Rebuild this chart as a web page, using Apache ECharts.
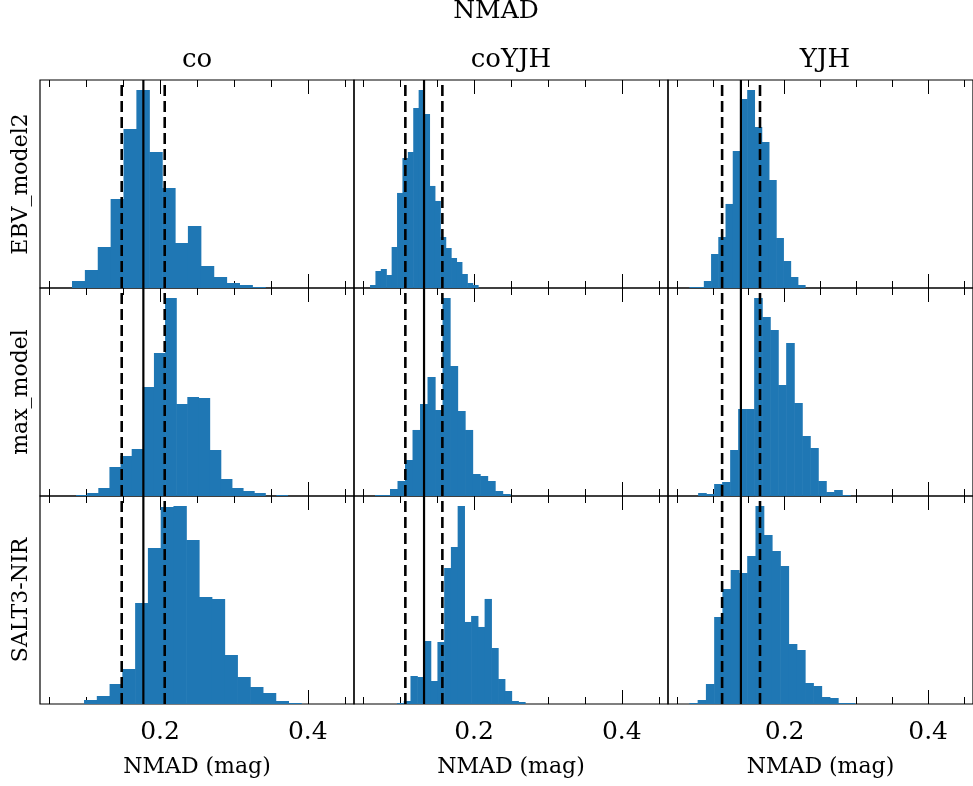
<!DOCTYPE html>
<html lang="en">

<head>
  <meta charset="UTF-8">
  <title>NMAD</title>
  <script src="https://cdn.jsdelivr.net/npm/echarts@6/dist/echarts.min.js"></script>
  <style>
    html,
    body {
      margin: 0;
      padding: 0;
      background-color: #fff;
    }

    #chart {
      width: 973px;
      height: 786px;
    }
  </style>
</head>

<body>
  <div id="chart"></div>
  <script>
    const columns = ['co', 'coYJH', 'YJH'];
    const rows = ['EBV_model2', 'max_model', 'SALT3-NIR'];

    // median and +/- lines per column
    const lowLines = [0.1481, 0.107, 0.1129];
    const medianLines = [0.1774, 0.1323, 0.1391];
    const highLines = [0.2063, 0.1571, 0.1657];

    // histogram bins: first edge, bin width, counts (row by row)
    const binStart = [
      [0.0808, 0.0592, 0.0673],
      [0.0863, 0.0659, 0.0795],
      [0.0971, 0.0957, 0.0673]
    ];
    const binWidth = [
      [0.01743, 0.00731, 0.01007],
      [0.01506, 0.01016, 0.01115],
      [0.01729, 0.00912, 0.01151]
    ];
    const countsCoEBV = [7, 18, 41, 89, 159, 198, 136, 100, 45, 62, 22, 11, 5, 3, 1];
    const countsCoYJHEBV = [3, 17, 19, 13, 41, 95, 130, 136, 180, 198, 174, 102, 87, 51, 40, 30, 26, 14, 5, 3];
    const countsYJHEBV = [1, 1, 7, 34, 51, 84, 137, 189, 198, 161, 146, 108, 50, 27, 11, 3];
    const countsCoMax = [1, 3, 8, 29, 40, 47, 109, 143, 198, 92, 99, 98, 46, 17, 8, 5, 3, 0, 1];
    const countsCoYJHMax = [1, 1, 7, 15, 36, 66, 92, 119, 86, 198, 130, 85, 66, 22, 20, 15, 5, 2];
    const countsYJHMax = [3, 2, 12, 14, 46, 87, 87, 198, 179, 166, 111, 153, 93, 60, 48, 15, 4, 6, 1];
    const countsCoSALT = [4, 8, 20, 35, 101, 156, 197, 198, 164, 107, 105, 49, 27, 17, 11, 3, 1];
    const countsCoYJHSALT = [1, 3, 28, 27, 63, 23, 62, 136, 157, 198, 82, 88, 77, 105, 56, 25, 13, 3, 2];
    const countsYJHSALT = [1, 4, 20, 87, 115, 134, 131, 148, 198, 169, 153, 138, 60, 54, 21, 18, 7, 6, 1, 1];
    const counts = [
      [countsCoEBV, countsCoYJHEBV, countsYJHEBV],
      [countsCoMax, countsCoYJHMax, countsYJHMax],
      [countsCoSALT, countsCoYJHSALT, countsYJHSALT]
    ];

    const xMin = 0.0375;
    const xMax = 0.4625;
    const majorTicks = [0.2, 0.4];
    const minorTicks = [0.05, 0.1, 0.15, 0.25, 0.3, 0.35, 0.45];

    const font = 'DejaVu Serif';
    const barColor = '#1f77b4';

    const chart = echarts.init(document.getElementById('chart'));

    const grids = [];
    const xAxes = [];
    const yAxes = [];
    const series = [];

    function tickAxis(gi, pos, values, len, withLabel, name) {
      return {
        type: 'value',
        gridIndex: gi,
        position: pos,
        min: xMin,
        max: xMax,
        axisLine: { show: false },
        splitLine: { show: false },
        axisTick: {
          show: true,
          inside: true,
          length: len,
          customValues: values,
          lineStyle: { color: '#000', width: 1 }
        },
        axisLabel: {
          show: withLabel,
          customValues: majorTicks,
          formatter: v => v.toFixed(1),
          fontFamily: font,
          fontSize: 25,
          color: '#000',
          margin: 16
        },
        name: name || '',
        nameLocation: 'middle',
        nameGap: 52,
        nameTextStyle: { fontFamily: font, fontSize: 22, color: '#000' }
      };
    }

    for (let r = 0; r < 3; r++) {
      for (let c = 0; c < 3; c++) {
        const gi = r * 3 + c;
        grids.push({
          left: 40 + c * 314,
          top: 80 + r * 208,
          width: 314,
          height: 208,
          show: true,
          borderColor: '#000',
          borderWidth: 1.2,
          backgroundColor: 'transparent'
        });
        const bottomRow = r === 2;
        xAxes.push(tickAxis(gi, 'bottom', majorTicks, 14, bottomRow, bottomRow ? 'NMAD (mag)' : ''));
        xAxes.push(tickAxis(gi, 'bottom', minorTicks, 7, false));
        xAxes.push(tickAxis(gi, 'top', majorTicks, 14, false));
        xAxes.push(tickAxis(gi, 'top', minorTicks, 7, false));

        const cts = counts[r][c];
        const yMax = Math.max(...cts) * 1.05;
        yAxes.push({
          type: 'value',
          gridIndex: gi,
          min: 0,
          max: yMax,
          axisLine: { show: false },
          axisTick: { show: false },
          axisLabel: { show: false },
          splitLine: { show: false },
          name: c === 0 ? rows[r] : '',
          nameLocation: 'middle',
          nameRotate: 90,
          nameGap: 8,
          nameTextStyle: { fontFamily: font, fontSize: 22, color: '#000' }
        });

        const bins = cts.map((v, i) => {
          const a = binStart[r][c] + i * binWidth[r][c];
          return [a, a + binWidth[r][c], v];
        });
        series.push({
          type: 'custom',
          xAxisIndex: gi * 4,
          yAxisIndex: gi,
          silent: true,
          data: bins,
          encode: { x: [0, 1], y: 2 },
          renderItem: function (params, api) {
            const p0 = api.coord([api.value(0), api.value(2)]);
            const p1 = api.coord([api.value(1), 0]);
            return {
              type: 'rect',
              shape: { x: p0[0], y: p0[1], width: p1[0] - p0[0] + 0.6, height: p1[1] - p0[1] },
              style: { fill: barColor }
            };
          },
          z: 2
        });

        const vlines = [
          [lowLines[c], 'dashed'],
          [medianLines[c], 'solid'],
          [highLines[c], 'dashed']
        ];
        vlines.forEach(([xv, kind]) => {
          series.push({
            type: 'line',
            xAxisIndex: gi * 4,
            yAxisIndex: gi,
            silent: true,
            showSymbol: false,
            animation: false,
            data: [[xv, 0], [xv, yMax]],
            lineStyle: {
              color: '#000',
              width: kind === 'solid' ? 2.2 : 2.6,
              type: kind === 'solid' ? 'solid' : [11, 5]
            },
            z: 5
          });
        });
      }
    }

    const graphics = [{
      type: 'text',
      x: 496,
      y: 11,
      style: { text: 'NMAD', fontFamily: font, fontSize: 25, fill: '#000', align: 'center', verticalAlign: 'middle' }
    }];
    columns.forEach((name, c) => {
      graphics.push({
        type: 'text',
        x: 40 + c * 314 + 157,
        y: 60,
        style: { text: name, fontFamily: font, fontSize: 26, fill: '#000', align: 'center', verticalAlign: 'middle' }
      });
    });

    chart.setOption({
      animation: false,
      grid: grids,
      xAxis: xAxes,
      yAxis: yAxes,
      series: series,
      graphic: graphics
    });
  </script>
</body>

</html>
